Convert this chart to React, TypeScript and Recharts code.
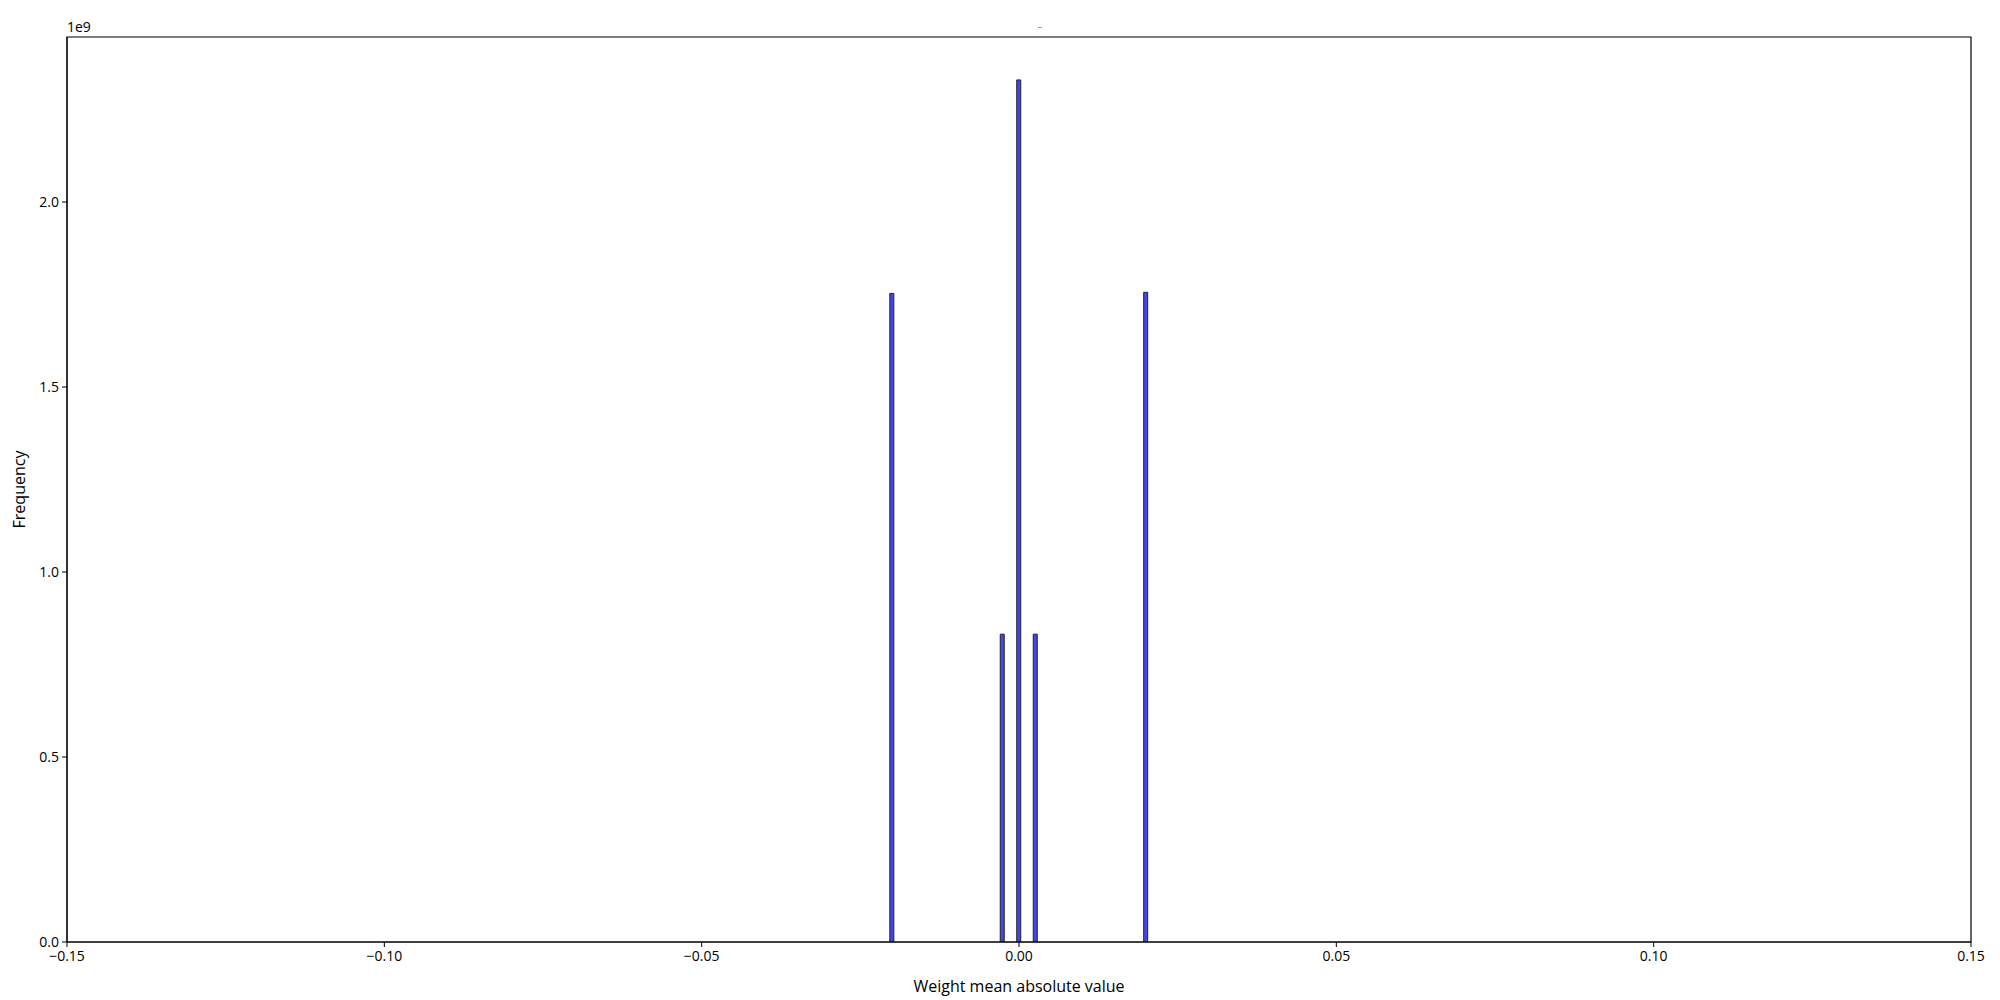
import {
  ComposedChart,
  Bar,
  XAxis,
  YAxis,
  ReferenceArea,
} from "recharts";

// bin centres (weight value) and counts
const binCenters = [-0.02, -0.0026, 0.0, 0.0026, 0.02];
const binCounts = [1.753e9, 0.832e9, 2.33e9, 0.832e9, 1.756e9];

const xTicks = [-0.15, -0.1, -0.05, 0, 0.05, 0.1, 0.15];
const yTicks = [0, 0.5e9, 1.0e9, 1.5e9, 2.0e9];

const xLabel = "Weight mean absolute value";
const yLabel = "Frequency";
const offsetText = "1e9";
const titleText = "_";

const yMax = 2.446e9;

const data = binCenters.map((x, i) => ({ x, count: binCounts[i] }));

const fmtX = (v: number) => {
  const s = Math.abs(v).toFixed(2);
  return v < 0 ? "\u2212" + s : s;
};
const fmtY = (v: number) => (v / 1e9).toFixed(1);

const font = "'Open Sans', 'Noto Sans', sans-serif";
const tickStyle = { fontSize: 14, fill: "#000", fontFamily: font };

export default function App() {
  return (
    <div
      style={{
        position: "absolute",
        left: 0,
        top: 0,
        width: 2000,
        height: 1000,
        background: "#fff",
        fontFamily: font,
      }}
    >
      {/* offset text + tiny title, as matplotlib placed them */}
      <div style={{ position: "absolute", left: 67, top: 17, fontSize: 14, color: "#000" }}>
        {offsetText}
      </div>
      <div style={{ position: "absolute", left: 1038, top: 18, fontSize: 8, color: "#000" }}>
        {titleText}
      </div>

      <ComposedChart
        width={2000}
        height={1000}
        data={data}
        margin={{ top: 37, right: 29, left: 0, bottom: 0 }}
      >
        <XAxis
          dataKey="x"
          type="number"
          domain={[-0.15, 0.15]}
          ticks={xTicks}
          tickFormatter={fmtX}
          allowDataOverflow
          height={58}
          tick={tickStyle}
          tickSize={5}
          tickMargin={4}
          stroke="#000"
          label={{
            value: xLabel,
            position: "insideBottom",
            offset: 8,
            style: { fontSize: 16, fill: "#000", fontFamily: font },
          }}
        />
        <YAxis
          type="number"
          domain={[0, yMax]}
          ticks={yTicks}
          tickFormatter={fmtY}
          allowDataOverflow
          width={67}
          tick={tickStyle}
          tickSize={5}
          tickMargin={3}
          stroke="#000"
          label={{
            value: yLabel,
            angle: -90,
            position: "insideLeft",
            offset: 19,
            style: { fontSize: 16, fill: "#000", fontFamily: font, textAnchor: "middle" },
          }}
        />
        <ReferenceArea
          x1={-0.15}
          x2={0.15}
          y1={0}
          y2={yMax}
          fill="none"
          stroke="#000"
          strokeWidth={1.2}
          ifOverflow="visible"
        />
        <Bar
          dataKey="count"
          barSize={4}
          fill="#4444f0"
          stroke="#222"
          strokeWidth={1}
          isAnimationActive={false}
        />
      </ComposedChart>
    </div>
  );
}
